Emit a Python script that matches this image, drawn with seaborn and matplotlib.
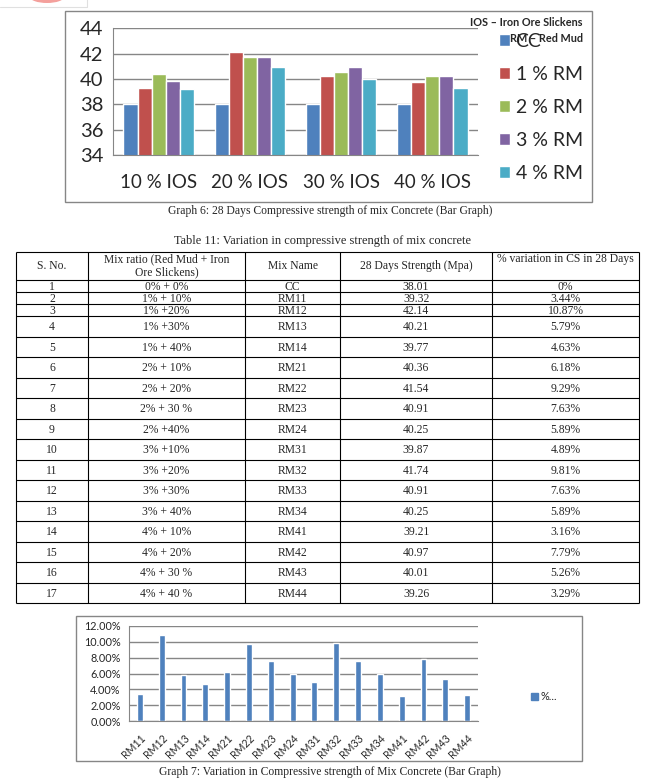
import numpy as np
import pandas as pd
import matplotlib
matplotlib.use("Agg")
import matplotlib.pyplot as plt
import seaborn as sns
from matplotlib.patches import Rectangle, Ellipse, Patch
from matplotlib.ticker import PercentFormatter

W, H = 662, 783

# ---- Graph 6 : 28 days strength
ios_levels = ["10 % IOS", "20 % IOS", "30 % IOS", "40 % IOS"]
rm_levels = ["CC", "1 % RM", "2 % RM", "3 % RM", "4 % RM"]
cc_vals = [38.01, 38.01, 38.01, 38.01]
rm1_vals = [39.32, 42.14, 40.21, 39.77]
rm2_vals = [40.36, 41.74, 40.56, 40.25]
rm3_vals = [39.87, 41.74, 40.91, 40.25]
rm4_vals = [39.21, 40.97, 40.01, 39.26]
bar_colors = ["#4F81BD", "#C0504D", "#9BBB59", "#8064A2", "#4BACC6"]

# ---- Table 11
sno = [str(i) for i in range(1, 18)]
mix_ratio = ["0% + 0%", "1% + 10%", "1% +20%", "1% +30%", "1% + 40%",
             "2% + 10%", "2% + 20%", "2% + 30 %", "2% +40%", "3% +10%",
             "3% +20%", "3% +30%", "3% + 40%", "4% + 10%", "4% + 20%",
             "4% + 30 %", "4% + 40 %"]
mix_name = ["CC", "RM11", "RM12", "RM13", "RM14", "RM21", "RM22", "RM23", "RM24",
            "RM31", "RM32", "RM33", "RM34", "RM41", "RM42", "RM43", "RM44"]
strength = ["38.01", "39.32", "42.14", "40.21", "39.77", "40.36", "41.54", "40.91",
            "40.25", "39.87", "41.74", "40.91", "40.25", "39.21", "40.97", "40.01", "39.26"]
variation = ["0%", "3.44%", "10.87%", "5.79%", "4.63%", "6.18%", "9.29%", "7.63%",
             "5.89%", "4.89%", "9.81%", "7.63%", "5.89%", "3.16%", "7.79%", "5.26%", "3.29%"]

# ---- Graph 7 : % variation
g7_names = mix_name[1:]
g7_pct = [3.44, 10.87, 5.79, 4.63, 6.18, 9.76, 7.63, 5.89,
          4.89, 9.81, 7.63, 5.89, 3.16, 7.79, 5.26, 3.29]

sns.set_style("white")
plt.rcParams["font.family"] = ["Lato", "DejaVu Sans"]
GRAY = "#868686"
SERIF = "Liberation Serif"
TFS = 8.4


def fbox(l, t, r, b):
    return [l / W, 1 - b / H, (r - l) / W, (b - t) / H]


fig = plt.figure(figsize=(W / 100, H / 100), dpi=100)

# page overlay in pixel coords
ax0 = fig.add_axes([0, 0, 1, 1])
ax0.set_xlim(0, W)
ax0.set_ylim(H, 0)
ax0.axis("off")

# bits of the page above the chart
ax0.add_patch(Ellipse((47, -3), 34, 12, color="#F4A09C", lw=0))
ax0.plot([0, 87, 87], [7, 7, -1], color="#E0E0E0", lw=0.8)

# ------------------------------------------------------------------ graph 6
ax0.add_patch(Rectangle((65, 11), 527, 191, fill=False, ec=GRAY, lw=1))
df6 = pd.DataFrame({
    "IOS": ios_levels * 5,
    "RM": np.repeat(rm_levels, 4),
    "Strength": cc_vals + rm1_vals + rm2_vals + rm3_vals + rm4_vals,
})
ax1 = fig.add_axes(fbox(113, 28.3, 478, 155))
sns.barplot(data=df6, x="IOS", y="Strength", hue="RM", palette=bar_colors,
            width=0.77, saturation=1, errorbar=None, ax=ax1)
ax1.set_facecolor("none")
ax1.set_ylim(34, 44)
ax1.set_yticks(range(34, 45, 2))
ax1.set_xlim(-0.5, 3.5)
ax1.yaxis.grid(True, color=GRAY, lw=1)
ax1.set_axisbelow(True)
for s in ["top", "right"]:
    ax1.spines[s].set_visible(False)
for s in ["left", "bottom"]:
    ax1.spines[s].set_color(GRAY)
ax1.set_xlabel("")
ax1.set_ylabel("")
ax1.tick_params(axis="y", length=5, color=GRAY, labelsize=14.5, pad=2)
ax1.tick_params(axis="x", which="major", length=0, labelsize=13.5, pad=14)
ax1.set_xticks(np.arange(-0.5, 4, 1), minor=True)
ax1.tick_params(axis="x", which="minor", length=5, color=GRAY)
h, l = ax1.get_legend_handles_labels()
ax1.legend(h, l, loc="upper left", bbox_to_anchor=(499 / W, 1 - 33 / H),
           bbox_transform=fig.transFigure, frameon=False, fontsize=14,
           handlelength=0.55, handleheight=0.55, handletextpad=0.3,
           labelspacing=0.82, borderpad=0, borderaxespad=0)

fig.text(583 / W, 1 - 22 / H, "IOS \u2013 Iron Ore Slickens", ha="right", va="center",
         fontsize=7.8, fontweight="bold", zorder=5)
fig.text(583 / W, 1 - 38 / H, "RM \u2013 Red Mud", ha="right", va="center",
         fontsize=7.8, fontweight="bold", zorder=5)

ax0.text(330, 211, "Graph 6: 28 Days Compressive strength of mix Concrete (Bar Graph)",
         ha="center", va="center", fontsize=TFS, family=SERIF)

# ------------------------------------------------------------------ table 11
ax0.text(322, 241, "Table 11: Variation in compressive strength of mix concrete",
         ha="center", va="center", fontsize=8.9, family=SERIF)
col_x = [16, 88, 245, 340, 492, 639]
row_h = [28] + [12] * 3 + [20.5] * 14
row_y = np.concatenate([[252], 252 + np.cumsum(row_h)])
ax0.hlines(row_y, col_x[0], col_x[-1], color="black", lw=0.8)
ax0.vlines(col_x, row_y[0], row_y[-1], color="black", lw=0.8)
cx = [(col_x[i] + col_x[i + 1]) / 2 for i in range(5)]
hy = (row_y[0] + row_y[1]) / 2
ax0.text(cx[0], hy, "S. No.", ha="center", va="center", fontsize=TFS, family=SERIF)
ax0.text(cx[1], hy - 0.5, "Mix ratio (Red Mud + Iron\nOre Slickens)", ha="center",
         va="center", fontsize=TFS, family=SERIF, linespacing=1.15)
ax0.text(cx[2], hy, "Mix Name", ha="center", va="center", fontsize=TFS, family=SERIF)
ax0.text(cx[3], hy, "28 Days Strength (Mpa)", ha="center", va="center", fontsize=TFS,
         family=SERIF)
ax0.text(cx[4], row_y[0] + 7, "% variation in CS in 28 Days", ha="center", va="center",
         fontsize=TFS, family=SERIF)
for i in range(17):
    yb = (row_y[i + 1] + row_y[i + 2]) / 2 + 3.8
    for j, col in enumerate([sno, mix_ratio, mix_name, strength, variation]):
        ax0.text(cx[j], yb, col[i], ha="center", va="baseline", fontsize=TFS, family=SERIF)

# ------------------------------------------------------------------ graph 7
ax0.add_patch(Rectangle((76, 616), 506, 145, fill=False, ec=GRAY, lw=1))
ax2 = fig.add_axes(fbox(129, 626, 478, 721))
sns.barplot(x=g7_names, y=g7_pct, color=bar_colors[0], saturation=1, width=0.27,
            errorbar=None, ax=ax2)
ax2.set_facecolor("none")
ax2.set_ylim(0, 12)
ax2.set_yticks(range(0, 13, 2))
ax2.yaxis.set_major_formatter(PercentFormatter(100, decimals=2))
ax2.set_xlim(-0.5, len(g7_names) - 0.5)
ax2.yaxis.grid(True, color=GRAY, lw=1)
ax2.set_axisbelow(True)
for s in ["top", "right"]:
    ax2.spines[s].set_visible(False)
for s in ["left", "bottom"]:
    ax2.spines[s].set_color(GRAY)
ax2.tick_params(axis="y", length=4, color=GRAY, labelsize=7.8, pad=2)
ax2.tick_params(axis="x", which="major", length=0, labelsize=7.6, pad=8)
ax2.set_xticks(np.arange(-0.5, len(g7_names), 1), minor=True)
ax2.tick_params(axis="x", which="minor", length=4, color=GRAY)
for t in ax2.get_xticklabels():
    t.set_rotation(45)
    t.set_ha("right")
    t.set_rotation_mode("anchor")
ax2.legend([Patch(color=bar_colors[0])], ["%..."], loc="center left",
           bbox_to_anchor=(531 / W, 1 - 697 / H), bbox_transform=fig.transFigure,
           frameon=False, fontsize=7.8, handlelength=0.6, handleheight=0.6,
           handletextpad=0.3, borderpad=0, borderaxespad=0)

ax0.text(330, 772, "Graph 7: Variation in Compressive strength of Mix Concrete (Bar Graph)",
         ha="center", va="center", fontsize=TFS, family=SERIF)

fig.savefig("out.png", dpi=100)
